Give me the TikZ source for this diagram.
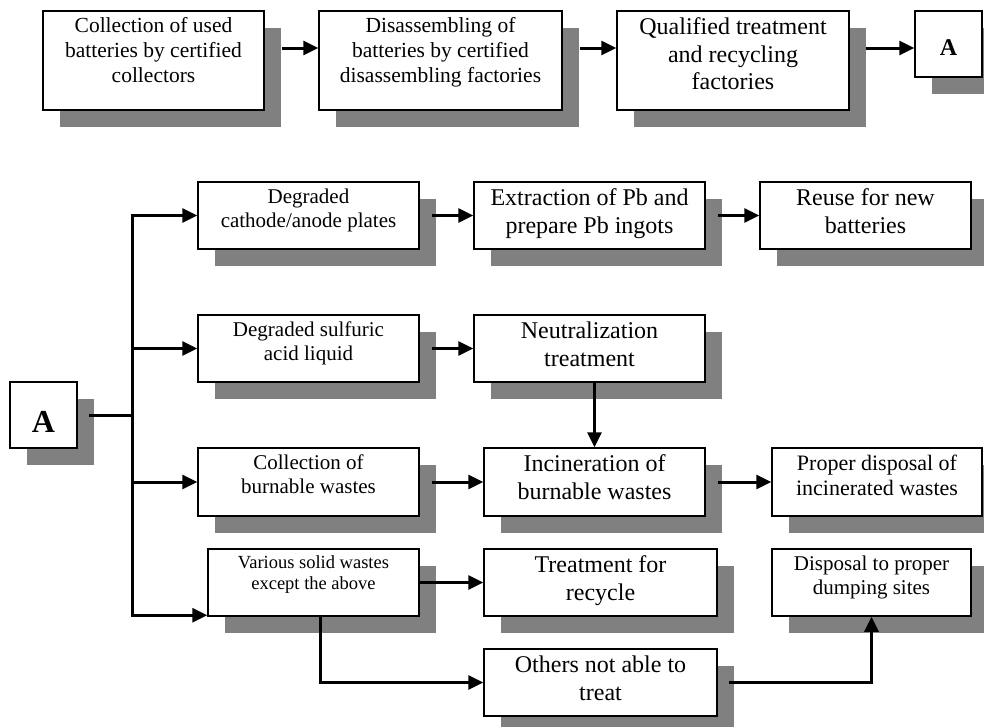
\documentclass[tikz,border=0pt]{standalone}
\usepackage{fontspec}
\setmainfont{Liberation Serif}
\usetikzlibrary{arrows.meta,shadows}
\definecolor{shgray}{RGB}{128,128,128}
\begin{document}
\begin{tikzpicture}[x=1pt,y=-1pt,
  shbox/.style={draw, line width=1.5pt, fill=white, inner sep=0pt,
    drop shadow={shadow xshift=16.5pt, shadow yshift=-16.5pt, fill=shgray, opacity=1}},
  lbl/.style={anchor=north, inner sep=0pt, align=center},
  arr/.style={line width=3pt, -{Triangle[length=15pt,width=14pt]}},
  ln/.style={line width=3pt},
  fa/.style={font=\fontsize{21.5}{24.7}\selectfont},
  fb/.style={font=\fontsize{24}{27.6}\selectfont},
  fc/.style={font=\fontsize{21}{24.15}\selectfont},
  fd/.style={font=\fontsize{18.5}{21.3}\selectfont},
  fe/.style={font=\fontsize{22}{25.3}\selectfont}]
\useasboundingbox (0,0) rectangle (984,726);

% top row
\node[shbox, minimum width=221pt, minimum height=99pt] (b1) at (153.5,60.5) {};
\node[lbl,fa] (t1) at ([yshift=-5pt]b1.north) {\strut Collection of used\\batteries by certified\\collectors};
\node[shbox, minimum width=243pt, minimum height=99pt] (b2) at (440.5,60.5) {};
\node[lbl,fa] (t2) at ([yshift=-5pt]b2.north) {\strut Disassembling of\\batteries by certified\\disassembling factories};
\node[shbox, minimum width=232pt, minimum height=99pt] (b3) at (733,60.5) {};
\node[lbl,fb] (t3) at ([yshift=-5pt]b3.north) {\strut Qualified treatment\\and recycling\\factories};
\node[shbox, minimum width=67pt, minimum height=66pt] (A1) at (948.5,44) {};
\node[font=\bfseries\fontsize{24}{28}\selectfont, anchor=base, inner sep=0pt] (tA1) at ([yshift=-11pt]A1.center) {A};

% lower part
\node[shbox, minimum width=67pt, minimum height=66pt] (A2) at (43.5,415) {};
\node[font=\bfseries\fontsize{32}{36}\selectfont, anchor=base, inner sep=0pt] (tA2) at ([yshift=-17pt]A2.center) {A};

\node[shbox, minimum width=221pt, minimum height=67pt] (c1a) at (308.5,215.5) {};
\node[lbl,fc] (u1a) at ([yshift=-5pt]c1a.north) {\strut Degraded\\cathode/anode plates};
\node[shbox, minimum width=221pt, minimum height=67pt] (c1b) at (308.5,348.5) {};
\node[lbl,fc] (u1b) at ([yshift=-5pt]c1b.north) {\strut Degraded sulfuric\\acid liquid};
\node[shbox, minimum width=221pt, minimum height=68pt] (c1c) at (308.5,482) {};
\node[lbl,fc] (u1c) at ([yshift=-5pt]c1c.north) {\strut Collection of\\burnable wastes};
\node[shbox, minimum width=211pt, minimum height=67pt] (c1d) at (313.5,582.5) {};
\node[lbl,fd] (u1d) at ([yshift=-5pt]c1d.north) {\strut Various solid wastes\\except the above};

\node[shbox, minimum width=231pt, minimum height=67pt] (c2a) at (589.5,215.5) {};
\node[lbl,fb] (u2a) at ([yshift=-5pt]c2a.north) {\strut Extraction of Pb and\\prepare Pb ingots};
\node[shbox, minimum width=231pt, minimum height=67pt] (c2b) at (589.5,348.5) {};
\node[lbl,fb] (u2b) at ([yshift=-5pt]c2b.north) {\strut Neutralization\\treatment};
\node[shbox, minimum width=221pt, minimum height=68pt] (c2c) at (594.5,482) {};
\node[lbl,fb] (u2c) at ([yshift=-5pt]c2c.north) {\strut Incineration of\\burnable wastes};
\node[shbox, minimum width=233pt, minimum height=67pt] (c2d) at (600.5,582.5) {};
\node[lbl,fb] (u2d) at ([yshift=-5pt]c2d.north) {\strut Treatment for\\recycle};
\node[shbox, minimum width=233pt, minimum height=67pt] (c2e) at (600.5,682.5) {};
\node[lbl,fb] (u2e) at ([yshift=-5pt]c2e.north) {\strut Others not able to\\treat};

\node[shbox, minimum width=211pt, minimum height=67pt] (c3a) at (865.5,215.5) {};
\node[lbl,fb] (u3a) at ([yshift=-5pt]c3a.north) {\strut Reuse for new\\batteries};
\node[shbox, minimum width=210pt, minimum height=68pt] (c3b) at (877,482) {};
\node[lbl,fe] (u3b) at ([yshift=-5pt]c3b.north) {\strut Proper disposal of\\incinerated wastes};
\node[shbox, minimum width=199pt, minimum height=67pt] (c3c) at (871.5,582.5) {};
\node[lbl,fc] (u3c) at ([yshift=-5pt]c3c.north) {\strut Disposal to proper\\dumping sites};

% connectors top
\draw[arr] ([xshift=17pt,yshift=12.5pt]b1.east) -- ([yshift=12.5pt]b2.west);
\draw[arr] ([xshift=17pt,yshift=12.5pt]b2.east) -- ([yshift=12.5pt]b3.west);
\draw[arr] ([xshift=16pt,yshift=12.5pt]b3.east) -- ([yshift=-4pt]A1.west);

% trunk
\coordinate (tk) at (132,416);
\coordinate (bt) at ([yshift=1.5pt]c1d.south west);
\draw[ln] ([xshift=11pt]A2.east) -- (tk |- A2.east);
\draw[arr] (tk |- bt) -- (tk |- c1a.west) -- (c1a.west);
\draw[arr] (tk |- c1a.west) -- (tk |- bt) -- (bt);
\draw[arr] (tk |- c1b.west) -- (c1b.west);
\draw[arr] (tk |- c1c.west) -- (c1c.west);

% column 1 -> 2
\draw[arr] ([xshift=12pt]c1a.east) -- (c2a.west);
\draw[arr] ([xshift=12pt]c1b.east) -- (c2b.west);
\draw[arr] ([xshift=12pt]c1c.east) -- (c2c.west);
\draw[arr] (c1d.east) -- (c2d.west);
\draw[arr] ([xshift=6.5pt]c1d.south) |- (c2e.west);

% column 2 -> 3
\draw[arr] ([xshift=12pt]c2a.east) -- (c3a.west);
\draw[arr] (c2b.south -| c2c.north) -- (c2c.north);
\draw[arr] ([xshift=12pt]c2c.east) -- (c3b.west);
\draw[arr] ([xshift=11pt]c2e.east) -| (c3c.south);
\end{tikzpicture}
\end{document}
